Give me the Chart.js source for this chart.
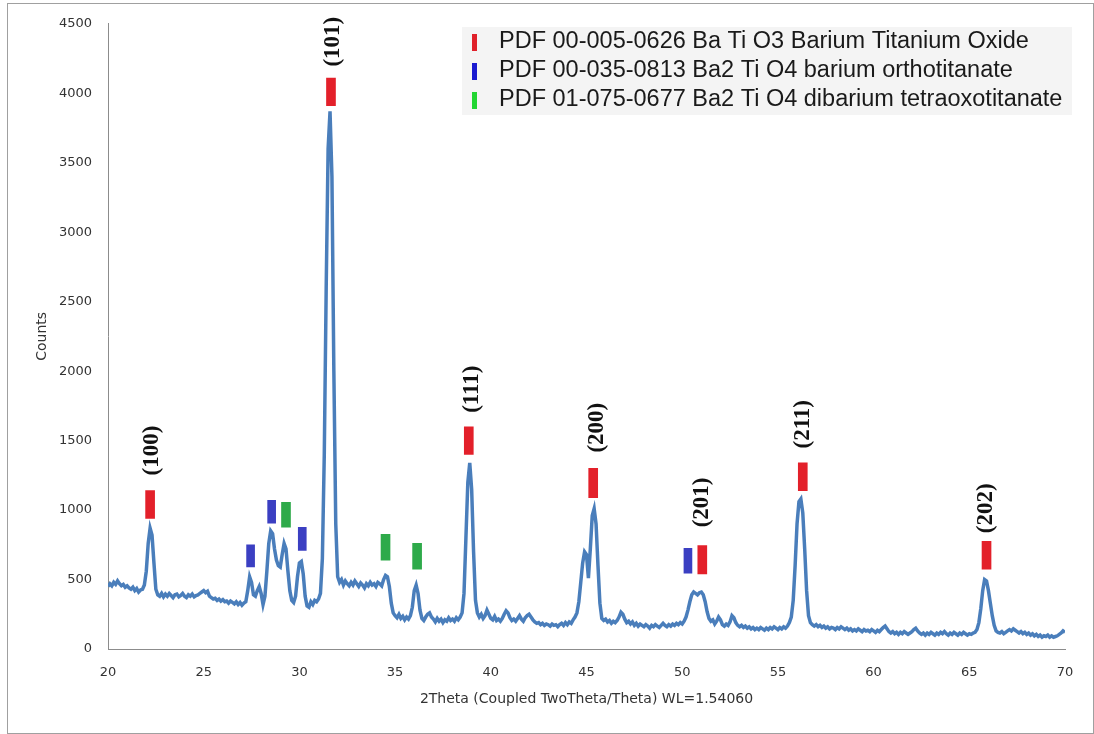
<!DOCTYPE html>
<html>
<head>
<meta charset="utf-8">
<script src="https://cdn.jsdelivr.net/npm/chart.js@4.4.0/dist/chart.umd.min.js"></script>
<style>
  html, body { margin: 0; padding: 0; background: #fff; }
  #wrap { position: relative; width: 1094px; height: 734px; }
  #frame { position: absolute; left: 7px; top: 3px; width: 1085px; height: 729px; border: 1px solid #a0a0a0; pointer-events: none; }
</style>
</head>
<body>
<div id="wrap">
  <canvas id="xrdChart" width="1094" height="734"></canvas>
  <div id="frame"></div>
</div>
<script>
// scan grid: 20.0 .. 70.0 deg, 0.1 deg step, one row per degree
const startAngle = 20;
const stepAngle = 0.1;
const counts = [
  450, 470, 455, 480, 465, 490, 470, 455, 465, 445,
  455, 440, 430, 445, 420, 435, 410, 425, 430, 460,
  560, 760, 870, 820, 620, 430, 390, 380, 400, 375,
  395, 380, 400, 385, 370, 390, 395, 375, 385, 400,
  380, 370, 390, 380, 395, 375, 385, 390, 400, 410,
  420, 405, 415, 380, 370, 360, 365, 350, 360, 345,
  355, 340, 345, 330, 345, 335, 325, 340, 320, 335,
  315, 330, 340, 420, 520, 480, 390, 380, 420, 450,
  400, 320, 380, 560, 760, 850, 830, 720, 640, 600,
  590, 680, 760, 720, 560, 420, 350, 335, 380, 520,
  620, 630, 540, 380, 310, 300, 340, 320, 350, 340,
  360, 400, 650, 1400, 2600, 3600, 3870, 3400, 2000, 900,
  520, 480, 500, 460, 490, 470, 455, 480, 460, 490,
  470, 450, 475, 460, 440, 470, 455, 480, 460, 470,
  450, 480, 470, 455, 500, 530, 520, 450, 330, 260,
  240, 225, 250, 220, 235, 210, 230, 215, 240, 300,
  420, 460, 400, 280, 220, 205, 230, 250, 260, 230,
  215, 195, 220, 200, 215, 190, 210, 200, 225, 205,
  215, 200, 225, 210, 230, 260, 400, 800, 1200, 1340,
  1150, 700, 350, 260, 230, 250, 220, 240, 280, 250,
  220, 210, 235, 205, 215, 200, 220, 250, 275, 260,
  225, 205, 215, 200, 220, 240, 215, 200, 225, 240,
  250, 230, 210, 195, 185, 190, 175, 185, 170, 180,
  175, 165, 180, 170, 175, 160, 175, 185, 170, 190,
  175, 195, 185, 210, 230, 260, 340, 480, 620, 700,
  680, 510, 720, 960, 1010, 900, 600, 330, 220, 205,
  215, 195, 205, 185, 200, 190, 205, 230, 265, 250,
  215, 190, 200, 180, 195, 170, 185, 165, 180, 170,
  160, 175, 165, 150, 170, 160, 175, 165, 155, 170,
  185, 170, 160, 175, 165, 180, 170, 185, 175, 190,
  180, 200, 230, 280, 340, 390, 410, 400, 390, 405,
  410, 390, 340, 270, 220, 200, 210, 180, 200, 230,
  210, 175, 165, 180, 170, 195, 240, 225, 190, 170,
  160, 170, 155, 165, 150, 160, 145, 155, 140, 150,
  140, 155, 145, 135, 150, 140, 155, 145, 160, 150,
  140, 155, 145, 160, 150, 165, 190, 230, 350, 600,
  900, 1060, 1080, 980, 720, 420, 240, 190, 175, 165,
  175, 160, 170, 155, 165, 150, 160, 145, 155, 150,
  140, 155, 145, 160, 150, 140, 150, 135, 145, 130,
  140, 130, 145, 135, 125, 140, 130, 135, 125, 140,
  130, 120, 135, 125, 140, 155, 165, 145, 125, 115,
  125, 110, 120, 105, 120, 110, 125, 115, 105, 115,
  125, 140, 150, 130, 115, 105, 115, 100, 115, 105,
  120, 110, 100, 115, 105, 120, 110, 125, 110, 100,
  115, 105, 120, 110, 100, 115, 105, 120, 110, 100,
  110, 105, 115, 120, 140, 190, 290, 420, 500, 490,
  420, 330, 240, 170, 130, 120, 115, 125, 110, 120,
  130, 140, 130, 145, 135, 125, 115, 125, 110, 120,
  105, 115, 100, 110, 95, 105, 90, 100, 85, 95,
  90, 100, 85, 95, 85, 90, 95, 105, 115, 130,
  120
];
const twoTheta = counts.map((_, i) => +(startAngle + i * stepAngle).toFixed(1));

// reference-pattern markers (floating bars: low..high counts)
const btoX    = [22.2, 31.65, 38.85, 45.35, 51.05, 56.3, 65.9];
const btoLow  = [940, 3910, 1400, 1090, 540, 1140, 575];
const btoHigh = [1140, 4110, 1600, 1300, 745, 1340, 775];

const orthoX    = [27.45, 28.55, 30.15, 50.3];
const orthoLow  = [590, 905, 710, 545];
const orthoHigh = [750, 1070, 875, 725];

const tetraX    = [29.3, 34.5, 36.15];
const tetraLow  = [876, 640, 575];
const tetraHigh = [1055, 826, 761];

// Miller indices, drawn upwards from (x, y)
const hklText = ['(100)', '(101)', '(111)', '(200)', '(201)', '(211)', '(202)'];
const hklX    = [22.3, 31.75, 39.0, 45.55, 51.05, 56.3, 65.9];
const hklY    = [1249, 4192, 1700, 1414, 876, 1443, 833];

const legendText = [
  'PDF 00-005-0626 Ba Ti O3 Barium Titanium Oxide',
  'PDF 00-035-0813 Ba2 Ti O4 barium orthotitanate',
  'PDF 01-075-0677 Ba2 Ti O4 dibarium tetraoxotitanate'
];
const legendColors = ['#e0202a', '#1a1ad0', '#22d632'];

const xTitle = '2Theta (Coupled TwoTheta/Theta) WL=1.54060';
const yTitle = 'Counts';
const yTicks = [0, 500, 1000, 1500, 2000, 2500, 3000, 3500, 4000, 4500];

const floating = (xs, lo, hi) => xs.map((x, i) => ({ x: x, y: [lo[i], hi[i]] }));

const annotations = {
  id: 'xrdAnnotations',
  afterDatasetsDraw(chart) {
    const { ctx, scales: { x, y } } = chart;
    ctx.save();
    ctx.fillStyle = '#111';
    ctx.font = 'bold 23px "Liberation Serif", "Times New Roman", serif';
    ctx.textAlign = 'left';
    ctx.textBaseline = 'middle';
    hklText.forEach((t, i) => {
      ctx.save();
      ctx.translate(x.getPixelForValue(hklX[i]), y.getPixelForValue(hklY[i]));
      ctx.rotate(-Math.PI / 2);
      ctx.fillText(t, 0, 0);
      ctx.restore();
    });

    // legend box
    ctx.fillStyle = '#f4f4f4';
    ctx.fillRect(462, 27, 610, 88);
    ctx.font = '23.5px "Liberation Sans", Arial, sans-serif';
    ctx.textAlign = 'left';
    ctx.textBaseline = 'middle';
    legendText.forEach((t, i) => {
      const cy = 42 + i * 29;
      ctx.fillStyle = legendColors[i];
      ctx.fillRect(472, cy - 8, 5, 17);
      ctx.fillStyle = '#1a1a1a';
      ctx.fillText(t, 499, cy);
    });
    ctx.restore();
  }
};

const ctx = document.getElementById('xrdChart').getContext('2d');

new Chart(ctx, {
  type: 'line',
  data: {
    datasets: [
      {
        type: 'bar',
        label: 'Ba Ti O3',
        data: floating(btoX, btoLow, btoHigh),
        backgroundColor: '#e3202a',
        barThickness: 9,
        grouped: false
      },
      {
        type: 'bar',
        label: 'Ba2 Ti O4 ortho',
        data: floating(orthoX, orthoLow, orthoHigh),
        backgroundColor: '#3b3fc2',
        barThickness: 8,
        grouped: false
      },
      {
        type: 'bar',
        label: 'Ba2 Ti O4 tetraoxo',
        data: floating(tetraX, tetraLow, tetraHigh),
        backgroundColor: '#2eaa4a',
        barThickness: 9,
        grouped: false
      },
      {
        type: 'line',
        label: 'Counts',
        data: twoTheta.map((t, i) => ({ x: t, y: counts[i] })),
        borderColor: '#4a7ebb',
        borderWidth: 3.5,
        pointRadius: 0,
        tension: 0,
        fill: false
      }
    ]
  },
  options: {
    responsive: false,
    maintainAspectRatio: false,
    animation: false,
    layout: { padding: { top: 22, right: 29, left: 0, bottom: 0 } },
    plugins: {
      legend: { display: false },
      tooltip: { enabled: false }
    },
    scales: {
      x: {
        type: 'linear',
        min: 20,
        max: 70,
        offset: false,
        grid: { display: false, drawTicks: false },
        border: { color: '#8c8c8c', width: 1 },
        ticks: {
          stepSize: 5,
          padding: 16,
          maxRotation: 0,
          color: '#333',
          font: { family: 'DejaVu Sans', size: 13 },
          callback: (v) => String(v)
        },
        title: {
          display: true,
          text: xTitle,
          color: '#333',
          font: { family: 'DejaVu Sans', size: 14 },
          padding: { top: 0, bottom: 26 }
        },
        afterFit: (s) => { s.height = 85; }
      },
      y: {
        type: 'linear',
        min: 0,
        max: 4500,
        grid: { display: false, drawTicks: false },
        border: { color: '#8c8c8c', width: 1 },
        afterBuildTicks: (s) => { s.ticks = yTicks.map(v => ({ value: v })); },
        ticks: {
          padding: 16,
          color: '#333',
          font: { family: 'DejaVu Sans', size: 13 },
          callback: (v) => String(v)
        },
        title: {
          display: true,
          text: yTitle,
          color: '#333',
          font: { family: 'DejaVu Sans', size: 14 },
          padding: { top: 34, bottom: 0 }
        },
        afterFit: (s) => { s.width = 108; }
      }
    }
  },
  plugins: [annotations]
});
</script>
</body>
</html>
